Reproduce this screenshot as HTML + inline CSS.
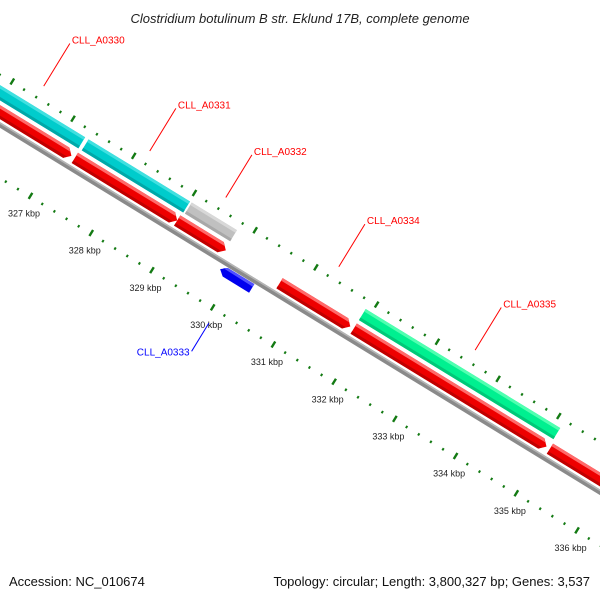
<!DOCTYPE html>
<html><head><meta charset="utf-8"><style>
html,body{margin:0;padding:0;background:#fff;overflow:hidden;}
svg{display:block;font-family:"Liberation Sans","DejaVu Sans",sans-serif;}
</style></head><body>
<svg id="map" width="600" height="600" viewBox="0 0 600 600">
<rect width="600" height="600" fill="#fff"/>
<text x="300" y="23" text-anchor="middle" font-size="13" font-style="italic" fill="#222">Clostridium botulinum B str. Eklund 17B, complete genome</text>
<g id="rot" transform="translate(0,125) rotate(31.47)"></g>
<g id="labels"></g>
<text x="9" y="586" font-size="13" fill="#111">Accession: NC_010674</text>
<text x="590" y="586" font-size="13" fill="#111" text-anchor="end">Topology: circular; Length: 3,800,327 bp; Genes: 3,537</text>
</svg>
<script>
// data
const fwdStarts = [320000, 327239, 328924, 330610, 331831, 335062];
const fwdEnds   = [327211, 328952, 329753, 331803, 335034, 340000];
const topStarts = [320000, 327267, 328966, 331831];
const topEnds   = [327239, 328966, 329739, 335062];
const topKinds  = ['cyan', 'cyan', 'gray', 'green'];
const revStarts = [329809];
const revEnds   = [330329];
const tickKbp   = [327, 328, 329, 330, 331, 332, 333, 334, 335, 336];
const geneNames = ['CLL_A0330', 'CLL_A0331', 'CLL_A0332', 'CLL_A0334', 'CLL_A0335', 'CLL_A0333'];
const geneBp    = [326354, 328100, 329352, 331213, 333458, 330070];
const geneStrand= ['top', 'top', 'top', 'fwd', 'top', 'rev'];

const NS = 'http://www.w3.org/2000/svg';
const rot = document.getElementById('rot');
const lab = document.getElementById('labels');
const A = 31.47 * Math.PI / 180, CA = Math.cos(A), SA = Math.sin(A);
function sOf(bp) { return 63 + (bp - 327000) * 0.0712; }
function world(s, ly) { return [s * CA - ly * SA, 125 + s * SA + ly * CA]; }
function mk(tag, attrs, parent) {
  const el = document.createElementNS(NS, tag);
  for (const k in attrs) el.setAttribute(k, attrs[k]);
  parent.appendChild(el);
  return el;
}
// backbone
let bb = mk('rect', {x: -50, y: -2.5, width: 900, height: 5, fill: '#8a8a8a'}, rot);


mk('rect', {x: -50, y: -2.5, width: 900, height: 1.6, fill: '#b5b5b5'}, rot);

// ticks
for (let bp = 325000; bp <= 337600; bp += 200) {
  const major = bp % 1000 === 0;
  const si = sOf(bp), so = sOf(bp) - 4;
  const t1 = mk('rect', major ? {x: so - 1.2, y: -47, width: 2.4, height: 7, fill: '#137a13'} : {x: so - 1, y: -44, width: 2, height: 2.6, fill: '#137a13'}, rot);
  
  
  const t2 = mk('rect', major ? {x: si - 1.2, y: 41, width: 2.4, height: 7, fill: '#137a13'} : {x: si - 1, y: 44, width: 2, height: 2.6, fill: '#137a13'}, rot);
  
  
}
tickKbp.forEach(k => {
  const p = world(sOf(k * 1000) + 2, 64);
  const t = mk('text', {x: p[0] + 2, y: p[1] + 3, 'font-size': 9, 'text-anchor': 'middle', fill: '#222'}, lab);
  t.textContent = k + ' kbp';
  
  
});

// forward features (red arrows)
fwdStarts.forEach((b, i) => {
  const s1 = sOf(b) + 1, s2 = sOf(fwdEnds[i]) - 1, h = 6, top = -17, bot = -5, mid = -11;
  const g = mk('g', {}, rot);
  
  
  mk('polygon', {points: `${s1},${top} ${s2-h},${top} ${s2},${mid} ${s2-h},${bot} ${s1},${bot}`, fill: '#ee0000'}, g);
  mk('polygon', {points: `${s1},${top} ${s2-h},${top} ${s2-h+2.5},${top+3} ${s1},${top+3}`, fill: '#ff6a6a'}, g);
  mk('polygon', {points: `${s1},${bot-3} ${s2-h+2.5},${bot-3} ${s2-h},${bot} ${s1},${bot}`, fill: '#c00000'}, g);
});
// top track features
const kc = {cyan: ['#00cccc', '#40e0e0', '#00a8a8'], gray: ['#c0c0c0', '#d8d8d8', '#a8a8a8'], green: ['#00f090', '#50ffb0', '#00c878']};
topStarts.forEach((b, i) => {
  const s1 = sOf(b) + 1, s2 = sOf(topEnds[i]) - 1, top = -34, bot = -21;
  const c = kc[topKinds[i]];
  const g = mk('g', {}, rot);
  
  
  mk('rect', {x: s1, y: top, width: s2 - s1, height: bot - top, fill: c[0]}, g);
  mk('rect', {x: s1, y: top, width: s2 - s1, height: 3, fill: c[1]}, g);
  mk('rect', {x: s1, y: bot - 3, width: s2 - s1, height: 3, fill: c[2]}, g);
});
// reverse features (blue)
revStarts.forEach((b, i) => {
  const s1 = sOf(b), s2 = sOf(revEnds[i]), h = 6, top = 3, bot = 13, mid = 8;
  const g = mk('g', {}, rot);
  
  
  mk('polygon', {points: `${s1},${mid} ${s1+h},${top} ${s2},${top} ${s2},${bot} ${s1+h},${bot}`, fill: '#0000ee'}, g);
  mk('polygon', {points: `${s1+2},${top+2.5} ${s1+h},${top} ${s2},${top} ${s2},${top+3}`, fill: '#5050ff'}, g);
});
// gene labels
geneNames.forEach((n, i) => {
  const s = sOf(geneBp[i]);
  let p0, p1, anchor, col = '#ff0000', dx = 2, dy = 0;
  if (geneStrand[i] === 'rev') {
    p0 = world(s, 60); p1 = world(s, 93); anchor = 'end'; col = '#0000ff'; dx = -2; dy = 4;
  } else {
    p0 = world(s, -56); p1 = world(s, -106); anchor = 'start'; dy = 0;
  }
  const l = mk('line', {x1: p0[0], y1: p0[1], x2: p1[0], y2: p1[1], stroke: col, 'stroke-width': 1}, lab);
  
  
  const t = mk('text', {x: p1[0] + dx, y: p1[1] + dy, 'font-size': 10, 'text-anchor': anchor, fill: col}, lab);
  t.textContent = n;
  
  
});
</script>
</body></html>
